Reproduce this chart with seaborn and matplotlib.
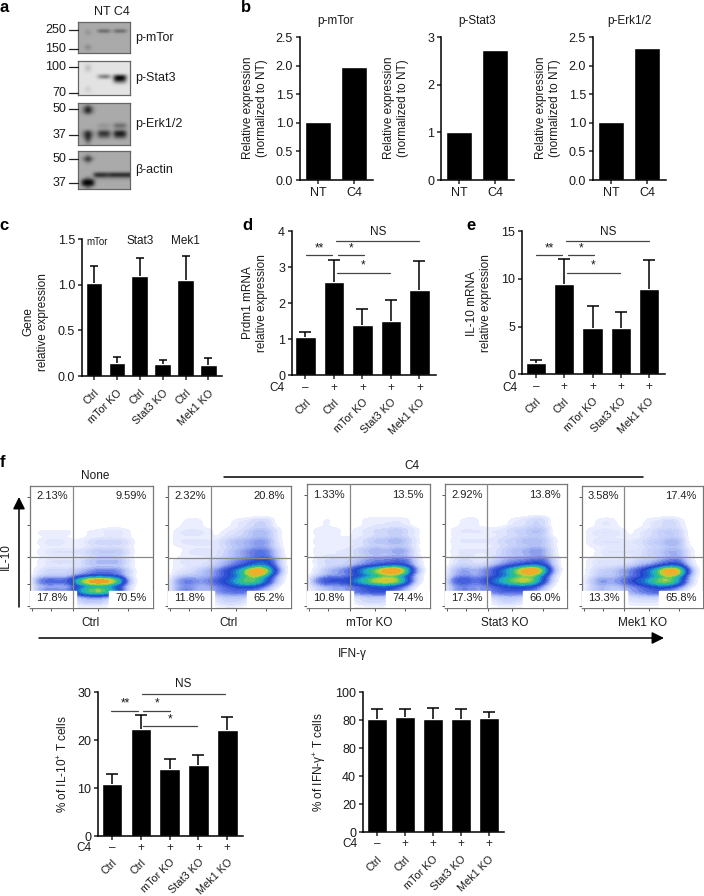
import matplotlib
matplotlib.use('Agg')
import matplotlib.pyplot as plt
from matplotlib.lines import Line2D
from matplotlib.patches import FancyArrowPatch, Rectangle
from matplotlib.colors import LinearSegmentedColormap
import seaborn as sns
import pandas as pd
import numpy as np

# western blot brightness, digit 0 (black) to 9 (white)
blot_mtor = ["6666666666666", "6666666666666", "6666666666666", "6656633363336",
             "6656666666666", "6666666666666", "6666666666666", "6666666666666",
             "6666666666666", "6646666666666", "6656666666666", "6666666666666"]
blot_stat3 = ["8888888888888", "8878888888888", "8868888888888", "8878888888888",
              "8888888888888", "8888843380008", "8888888880018", "8888888885558",
              "8888888888888", "8878888888888", "8878888888888", "8888888888888"]
blot_erk = ["6656666666666", "6404666666666", "6404666666666", "6666666666666",
            "6666666666666", "6666666666666", "6666655563336", "6666666666666",
            "6404611160006", "6404633362226", "6616666666666", "6656666666666"]
blot_actin = ["6666666666666", "6646666666666", "6404666666666", "6646666666666",
              "6666666666666", "6666666666666", "6666666666666", "6666000100000",
              "6646555555555", "6000666666666", "6000666666666", "6646666666666"]
blot_names = ["p-mTor", "p-Stat3", "p-Erk1/2", "β-actin"]
blot_markers = [["250", "150"], ["100", "70"], ["50", "37"], ["50", "37"]]

nt_c4 = ["NT", "C4"]
b_titles = ["p-mTor", "p-Stat3", "p-Erk1/2"]
b_values = [[1.01, 1.98], [1.01, 2.72], [1.01, 2.31]]

c_labels = ["Ctrl", "mTor KO", "Ctrl", "Stat3 KO", "Ctrl", "Mek1 KO"]
c_values = [1.02, 0.14, 1.09, 0.13, 1.05, 0.12]
c_tops = [1.20, 0.21, 1.29, 0.18, 1.31, 0.20]

ko_labels = ["Ctrl", "Ctrl", "mTor KO", "Stat3 KO", "Mek1 KO"]
c4_signs = ["–", "+", "+", "+", "+"]
d_values = [1.05, 2.57, 1.40, 1.51, 2.37]
d_tops = [1.19, 3.19, 1.83, 2.09, 3.16]
e_values = [1.2, 9.5, 4.9, 4.85, 8.9]
e_tops = [1.55, 12.1, 7.2, 6.55, 11.95]
g_values = [10.9, 22.3, 14.0, 14.8, 22.0]
g_tops = [13.0, 25.2, 16.0, 16.8, 24.7]
h_values = [80.5, 82.0, 80.5, 81.0, 81.5]
h_tops = [88.0, 88.0, 88.5, 88.0, 86.0]
h_ticks = [0, 20, 40, 60, 80, 100]
h_ticklabels = ["0", "20", "40", "80", "80", "100"]

# flow plots: rough event density on a coarse grid, top row first
flow_x = [0.08, 0.16, 0.24, 0.32, 0.40, 0.48, 0.56, 0.64, 0.72, 0.80, 0.88]
flow_y = [0.70, 0.62, 0.54, 0.46, 0.38, 0.30, 0.22, 0.14, 0.06]
flow_none = [[0, 0, 0, 0, 0, 0, 0, 0, 0, 0, 0],
             [1, 1, 1, 1, 0, 1, 1, 2, 2, 1, 0],
             [1, 2, 2, 1, 1, 2, 3, 3, 3, 2, 0],
             [1, 2, 2, 2, 2, 3, 4, 4, 4, 2, 0],
             [1, 2, 2, 2, 2, 4, 5, 5, 5, 2, 0],
             [2, 3, 3, 3, 4, 6, 8, 8, 7, 3, 0],
             [8, 10, 9, 10, 24, 34, 38, 34, 24, 4, 0],
             [6, 8, 7, 7, 18, 26, 28, 24, 14, 2, 0],
             [0, 0, 0, 0, 3, 4, 4, 2, 0, 0, 0]]
flow_ctrl = [[0, 1, 1, 0, 0, 0, 1, 1, 2, 2, 0],
             [1, 1, 1, 1, 0, 1, 1, 2, 3, 3, 1],
             [1, 1, 1, 1, 1, 2, 3, 3, 4, 4, 1],
             [0, 1, 1, 1, 1, 2, 3, 4, 5, 5, 2],
             [1, 1, 1, 1, 2, 3, 4, 5, 7, 8, 3],
             [1, 1, 2, 3, 4, 7, 10, 16, 24, 18, 5],
             [4, 5, 4, 4, 6, 8, 12, 16, 14, 8, 2],
             [4, 5, 3, 3, 4, 5, 5, 5, 4, 2, 0],
             [0, 0, 0, 0, 1, 2, 2, 1, 0, 0, 0]]
flow_mtor = [[0, 1, 0, 0, 0, 1, 1, 1, 1, 1, 0],
             [1, 1, 1, 0, 1, 1, 2, 2, 3, 2, 1],
             [1, 1, 1, 1, 1, 2, 3, 3, 4, 3, 1],
             [1, 1, 1, 1, 2, 3, 4, 3, 4, 4, 1],
             [1, 2, 2, 2, 3, 4, 5, 5, 6, 6, 2],
             [1, 3, 4, 5, 9, 14, 18, 24, 26, 18, 4],
             [5, 8, 8, 8, 12, 16, 20, 22, 20, 12, 2],
             [2, 3, 4, 4, 6, 7, 8, 8, 6, 3, 0],
             [0, 0, 0, 0, 1, 2, 2, 2, 0, 0, 0]]
flow_stat3 = [[0, 1, 1, 0, 0, 0, 1, 1, 2, 2, 0],
              [1, 1, 1, 1, 1, 1, 2, 2, 3, 3, 0],
              [1, 1, 1, 1, 1, 2, 2, 3, 3, 3, 1],
              [1, 1, 1, 1, 1, 2, 3, 3, 4, 4, 1],
              [1, 2, 1, 1, 2, 3, 4, 4, 5, 6, 2],
              [3, 4, 3, 4, 6, 10, 14, 20, 24, 16, 3],
              [6, 7, 5, 6, 9, 13, 16, 18, 16, 8, 1],
              [4, 5, 4, 4, 5, 6, 6, 6, 5, 2, 0],
              [0, 0, 0, 0, 1, 2, 2, 1, 0, 0, 0]]
flow_mek1 = [[0, 1, 1, 0, 0, 0, 1, 1, 2, 1, 0],
             [1, 1, 1, 1, 0, 1, 1, 2, 2, 2, 0],
             [1, 1, 1, 1, 1, 1, 2, 2, 3, 3, 0],
             [0, 1, 1, 1, 1, 1, 2, 2, 3, 3, 1],
             [1, 1, 1, 1, 1, 2, 2, 3, 4, 5, 1],
             [1, 2, 2, 3, 4, 6, 9, 14, 22, 18, 4],
             [2, 4, 3, 4, 6, 8, 11, 15, 15, 10, 2],
             [2, 3, 2, 2, 3, 4, 5, 5, 4, 2, 0],
             [0, 0, 0, 0, 1, 1, 1, 1, 0, 0, 0]]
flow_names = ["Ctrl", "Ctrl", "mTor KO", "Stat3 KO", "Mek1 KO"]
flow_pcts = [["2.13%", "9.59%", "17.8%", "70.5%"],
             ["2.32%", "20.8%", "11.8%", "65.2%"],
             ["1.33%", "13.5%", "10.8%", "74.4%"],
             ["2.92%", "13.8%", "17.3%", "66.0%"],
             ["3.58%", "17.4%", "13.3%", "65.8%"]]

W, H = 704, 896
sns.set_theme(style='ticks')
plt.rcParams['font.family'] = ['Liberation Sans', 'DejaVu Sans']
plt.rcParams['mathtext.default'] = 'regular'
plt.rcParams['font.size'] = 8.5

fig = plt.figure(figsize=(W / 100, H / 100), dpi=100, facecolor='white')


def px_axes(left, top, right, bottom):
    return fig.add_axes([left / W, 1 - bottom / H, (right - left) / W, (bottom - top) / H])


def ptext(x, y, s, **kw):
    kw.setdefault('ha', 'center')
    kw.setdefault('va', 'center')
    kw.setdefault('fontsize', 8.5)
    kw.setdefault('color', '#1a1a1a')
    fig.text(x / W, 1 - y / H, s, **kw)


def pline(x0, x1, y, color='#444444', lw=0.9):
    fig.add_artist(Line2D([x0 / W, x1 / W], [1 - y / H, 1 - y / H], color=color, lw=lw))


def bars(ax, values, tops, xlim, ylim, yticks, cap=4.0):
    pos = np.arange(len(values))
    sns.barplot(x=pos, y=values, color='black', saturation=1, width=0.72, ax=ax)
    if tops is not None:
        _, caps, _ = ax.errorbar(pos, values, yerr=[np.zeros(len(values)), np.array(tops) - np.array(values)],
                                 fmt='none', ecolor='black', elinewidth=1.1, capsize=cap, capthick=1.1)
        caps[0].set_visible(False)
    ax.set_xlim(*xlim)
    ax.set_ylim(*ylim)
    ax.set_yticks(yticks)
    ax.set_xticks(pos)
    ax.set_xlabel('')
    ax.set_ylabel('')
    ax.patch.set_alpha(0)
    sns.despine(ax=ax)
    for s in ['left', 'bottom']:
        ax.spines[s].set_linewidth(1.1)
        ax.spines[s].set_color('black')
    ax.tick_params(length=3, width=1.1, pad=2, labelsize=9, labelcolor='#1a1a1a')


def rotated(ax, labels, pad):
    ax.tick_params(axis='x', pad=pad)
    ax.set_xticklabels(labels, rotation=45, ha='right', rotation_mode='anchor', fontsize=7.8)


def signs(ax, offset):
    for p, sign in enumerate(c4_signs):
        ax.text(p, offset, sign, transform=ax.get_xaxis_transform(), ha='center', va='center', fontsize=8.5)


# panel a, western blots
blots = [blot_mtor, blot_stat3, blot_erk, blot_actin]
blot_boxes = [(22, 53), (61, 95), (103, 145), (151, 189)]
marker_y = [(30, 49), (67, 93), (109, 135), (159, 183)]
name_y = [38, 78, 124, 170]
for rows, (top, bottom), name, marks, my, ny in zip(blots, blot_boxes, blot_names, blot_markers, marker_y, name_y):
    ax = px_axes(78, top, 130, bottom)
    img = np.array([[int(c) for c in r] for r in rows])
    ax.imshow(img, cmap='gray', vmin=0, vmax=9, aspect='auto', interpolation='bicubic')
    ax.set_xticks([])
    ax.set_yticks([])
    for s in ax.spines.values():
        s.set_color('#666666')
        s.set_linewidth(0.9)
    for m, y in zip(marks, my):
        pline(69, 78, y, color='#222222', lw=0.9)
        ptext(66, y, m, ha='right', fontsize=9)
    ptext(135, ny, name, ha='left', fontsize=9)
ptext(112, 12, "NT C4", fontsize=9)

# panel b
for i, left in enumerate([300, 441, 593]):
    ax = px_axes(left, 37, left + 73, 180)
    ticks = [0, 1, 2, 3] if i == 1 else [0, 0.5, 1, 1.5, 2, 2.5]
    bars(ax, b_values[i], None, (-0.5, 1.53), (0, 3 if i == 1 else 2.5), ticks)
    ax.set_xticklabels(nt_c4)
    if i != 1:
        ax.set_yticklabels(["0.0", "0.5", "1.0", "1.5", "2.0", "2.5"])
    ptext(left + 36, 21, b_titles[i])
    ptext(left - 45, 108, "Relative expression\n(normalized to NT)", rotation=90, linespacing=1.25)

# panel c
ax = px_axes(82, 239, 222, 376)
bars(ax, c_values, c_tops, (-0.52, 5.59), (0, 1.5), [0, 0.5, 1, 1.5], cap=3.0)
ax.set_yticklabels(["0.0", "0.5", "1.0", "1.5"])
rotated(ax, c_labels, 5.5)
ptext(36, 322, "Gene\nrelative expression", rotation=90, linespacing=1.25)
ptext(97, 242, "mTor", fontsize=7)
ptext(140, 241, "Stat3")
ptext(185, 241, "Mek1")

# panels d and e
panels = [(292, 436, 375, (-0.47, 4.58), d_values, d_tops, 4, [0, 1, 2, 3, 4], 255, "Prdm1 mRNA\nrelative expression", 0),
          (522, 665, 374.5, (-0.5, 4.57), e_values, e_tops, 15, [0, 5, 10, 15], 479, "IL-10 mRNA\nrelative expression", 230)]
for left, right, bottom, xlim, vals, tops, ymax, ticks, lab_x, lab, dx in panels:
    ax = px_axes(left, 231, right, bottom)
    bars(ax, vals, tops, xlim, (0, ymax), ticks)
    ax.set_yticklabels([str(t) for t in ticks])
    rotated(ax, ko_labels, 12.8)
    signs(ax, -13 / 144)
    ptext(left - 15 - (dx > 0) * -3, 388, "C4")
    ptext(lab_x, 303, lab, rotation=90, linespacing=1.25)
    pline(306 + dx, 332 + dx, 255)
    pline(338 + dx, 364 + dx, 255)
    pline(337 + dx, 390 + dx, 273)
    pline(336 + dx, 419 + dx, 241)
    ptext(319 + dx, 248, "**")
    ptext(351 + dx, 248, "*")
    ptext(363 + dx, 265, "*")
    ptext(378 + dx, 232, "NS")

# panel f, flow plots
flow_cmap = LinearSegmentedColormap.from_list(
    'flow', ['#eef1ff', '#b4c2f6', '#5a72e4', '#2444cc', '#1c6cd0', '#20b0c8', '#30c080', '#a0d040', '#f0c830', '#f08020'])
flow_boxes = [(30, 153, 486, 73, 557), (168, 291, 486, 211, 558), (307, 430, 484, 350, 557),
              (445, 567, 484, 487, 557), (582, 703, 486, 624, 557)]
flow_sets = [flow_none, flow_ctrl, flow_mtor, flow_stat3, flow_mek1]
name_x = [91, 229, 369, 505, 643]
for (left, right, top, vx, hy), dens, name, nx, pcts in zip(flow_boxes, flow_sets, flow_names, name_x, flow_pcts):
    ax = px_axes(left, top, right, 608)
    xx, yy = np.meshgrid(flow_x, flow_y)
    df = pd.DataFrame({'x': xx.ravel(), 'y': yy.ravel(), 'w': np.array(dens).ravel()})
    df = df[df.w > 0]
    sns.kdeplot(data=df, x='x', y='y', weights='w', fill=True, cmap=flow_cmap, levels=24,
                thresh=0.02, bw_method=0.23, ax=ax)
    ax.set_xlim(0, 1)
    ax.set_ylim(0, 1)
    ax.set_xlabel('')
    ax.set_ylabel('')
    ax.add_patch(Rectangle((0, 0), 0.37, 0.14, color='white', zorder=3))
    ax.add_patch(Rectangle((0.64, 0), 0.36, 0.14, color='white', zorder=3))
    ax.axvline((vx - left) / (right - left), color='#888888', lw=0.9, zorder=4)
    ax.axhline((608 - hy) / (608 - top), color='#888888', lw=0.9, zorder=4)
    ax.set_xticks([0.02, 0.17, 0.35, 0.55, 0.8])
    ax.set_yticks([0.02, 0.2, 0.42, 0.68, 0.91])
    ax.set_xticklabels([])
    ax.set_yticklabels([])
    ax.tick_params(length=2, width=0.7, color='#555555')
    for s in ax.spines.values():
        s.set_color('#777777')
        s.set_linewidth(0.9)
        s.set_visible(True)
    for (tx, ty, ha), pct in zip([(0.05, 0.915, 'left'), (0.95, 0.915, 'right'), (0.05, 0.08, 'left'), (0.95, 0.08, 'right')], pcts):
        ax.text(tx, ty, pct, transform=ax.transAxes, ha=ha, va='center', fontsize=8, color='#222222', zorder=5)
    ptext(nx, 623, name)

ptext(95, 476, "None")
ptext(412, 466, "C4")
pline(224, 643, 477, color='black', lw=1.1)
ptext(6, 557, "IL-10", rotation=90)
ptext(352, 654, "IFN-γ")
fig.add_artist(FancyArrowPatch((39 / W, 1 - 638 / H), (664 / W, 1 - 638 / H), transform=fig.transFigure,
                               arrowstyle='-|>', mutation_scale=18, lw=1.1, color='black', shrinkA=0, shrinkB=0))
fig.add_artist(FancyArrowPatch((19 / W, 1 - 607 / H), (19 / W, 1 - 497 / H), transform=fig.transFigure,
                               arrowstyle='-|>', mutation_scale=18, lw=1.1, color='black', shrinkA=0, shrinkB=0))

# bottom bars
ax = px_axes(98, 692, 243, 836)
bars(ax, g_values, g_tops, (-0.49, 4.55), (0, 30), [0, 10, 20, 30])
rotated(ax, ko_labels, 12)
signs(ax, -12 / 144)
ptext(84, 848, "C4")
ptext(63, 764, "% of IL-10$^{+}$ T cells", rotation=90)
pline(111, 138, 711)
pline(143, 170, 711)
pline(143, 197, 726)
pline(142, 225, 694)
ptext(125, 703, "**")
ptext(157, 703, "*")
ptext(170, 719, "*")
ptext(183, 684, "NS")

ax = px_axes(363, 692, 504, 832)
bars(ax, h_values, h_tops, (-0.5, 4.54), (0, 100), h_ticks)
ax.set_yticklabels(h_ticklabels)
rotated(ax, ko_labels, 13)
signs(ax, -12 / 140)
ptext(350, 844, "C4")
ptext(320, 762, "% of IFN-γ$^{+}$ T cells", rotation=90)

# panel letters
for letter, x, y in [("a", 4, 8), ("b", 246, 7), ("c", 4, 226), ("d", 247, 225), ("e", 471, 225), ("f", 3, 462)]:
    ptext(x, y, letter, fontweight='bold', fontsize=12, color='black')

fig.savefig('out.png', dpi=100)
